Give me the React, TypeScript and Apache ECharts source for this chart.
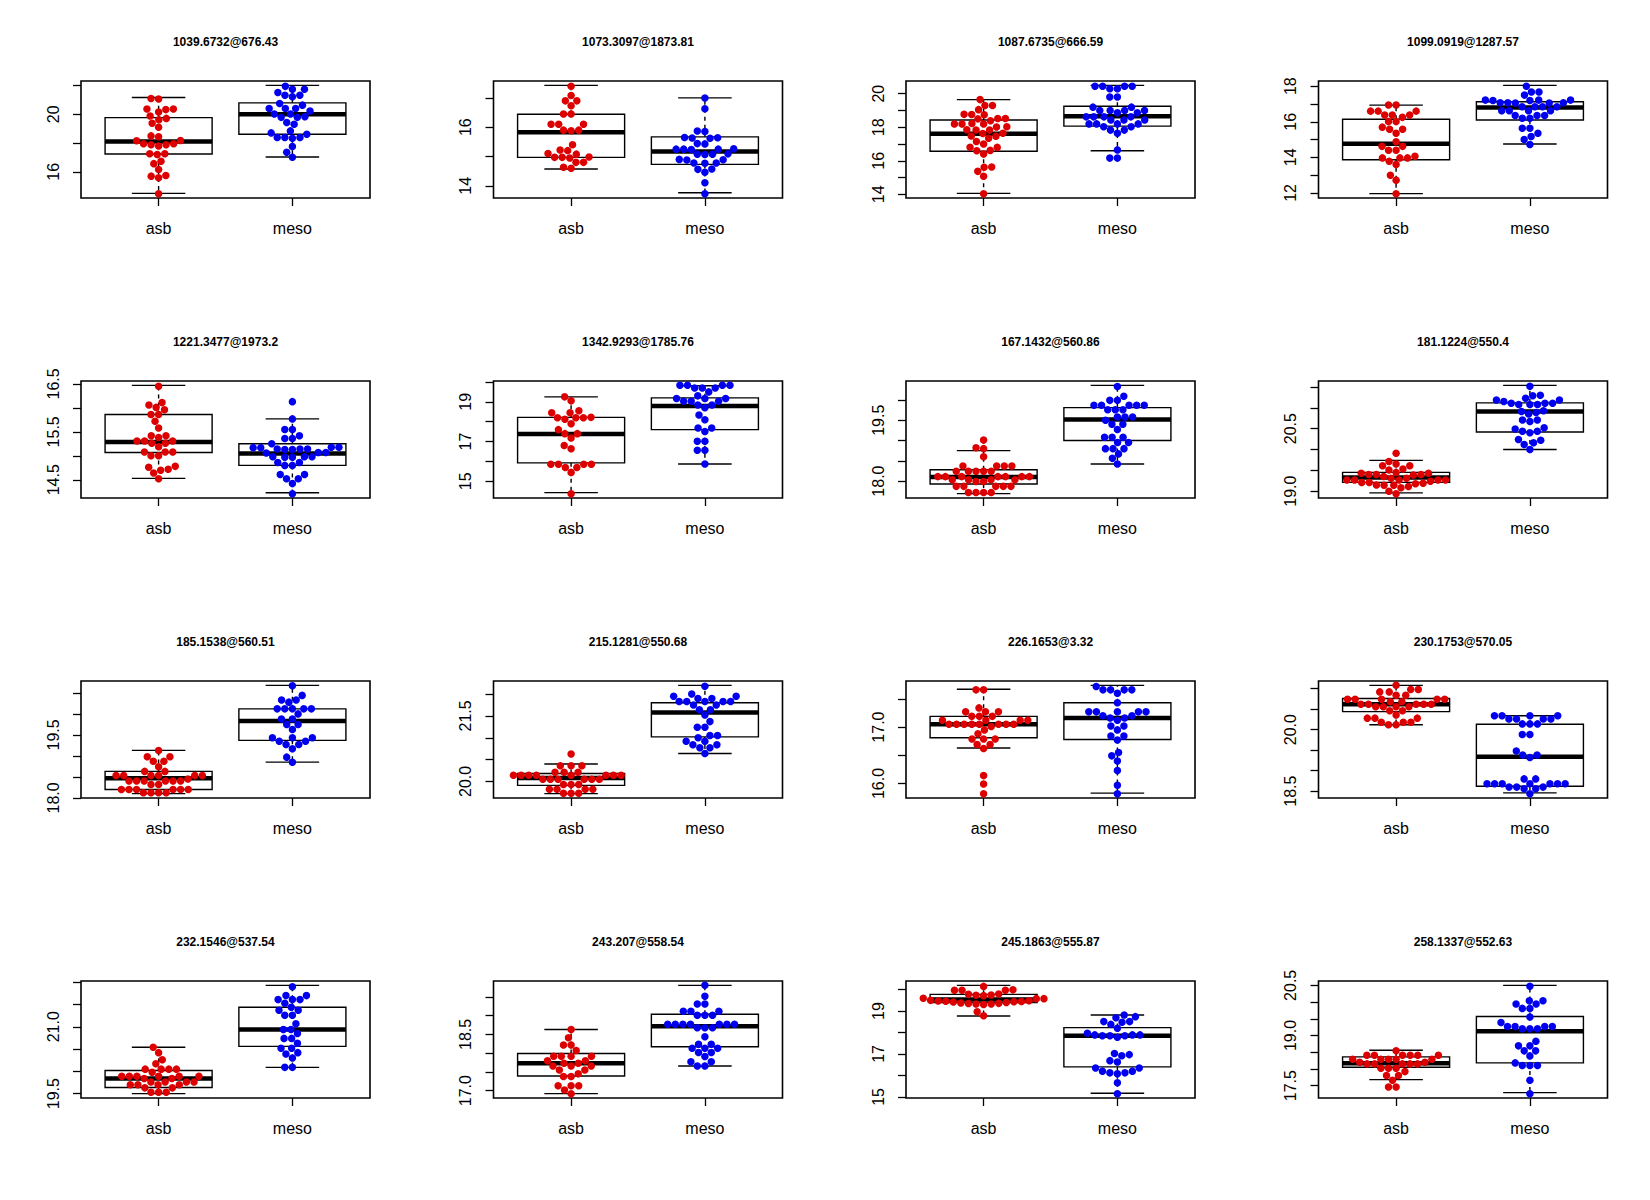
import React, { useEffect, useRef } from "react";
import * as echarts from "echarts";

const categories = ["asb", "meso"];
const titles = [
  "1039.6732@676.43", "1073.3097@1873.81", "1087.6735@666.59", "1099.0919@1287.57",
  "1221.3477@1973.2", "1342.9293@1785.76", "167.1432@560.86", "181.1224@550.4",
  "185.1538@560.51", "215.1281@550.68", "226.1653@3.32", "230.1753@570.05",
  "232.1546@537.54", "243.207@558.54", "245.1863@555.87", "258.1337@552.63",
];

// box stats: [lower whisker, Q1, median, Q3, upper whisker]
// ---- panel 1
const p01Asb = [21.07, 21.1, 20.37, 20.33, 20.16, 20.37, 19.72, 19.63, 19.89, 19.38, 19.1, 18.44, 18.5, 18.18, 17.95, 17.89, 17.8, 17.89, 17.95, 18.16, 17.26, 17.2, 17.26, 16.74, 16.57, 16.16, 15.75, 15.59, 15.7, 14.48];
const p01Meso = [21.95, 21.52, 21.75, 21.75, 21.33, 21.33, 21.22, 20.76, 20.64, 20.41, 20.41, 20.41, 20.23, 20.02, 19.79, 20.02, 19.79, 19.84, 19.43, 19.31, 18.85, 18.62, 18.39, 18.34, 18.39, 18.39, 18.71, 17.77, 17.36, 17.01];
const p01AsbBox = [14.5, 17.24, 18.11, 19.77, 21.17];
const p01MesoBox = [17.03, 18.62, 20.0, 20.8, 22.02];
const p01Ticks = [16, 18, 20, 22];
const p01Labels = ["16", "20"];
// ---- panel 2
const p02Asb = [17.4, 17.08, 16.9, 16.9, 16.73, 16.45, 16.45, 16.1, 16.1, 16.1, 15.9, 15.88, 15.9, 15.4, 15.22, 15.2, 15.08, 15.1, 14.97, 14.97, 14.95, 14.98, 14.8, 14.8, 14.63, 14.6];
const p02Meso = [17.0, 16.63, 15.87, 15.85, 15.65, 15.63, 15.64, 15.62, 15.44, 15.43, 15.26, 15.25, 15.24, 15.25, 15.25, 15.08, 15.07, 15.08, 15.09, 14.9, 14.88, 14.89, 14.78, 14.77, 14.78, 14.57, 14.56, 14.46, 14.1, 13.73];
const p02AsbBox = [14.57, 14.97, 15.83, 16.44, 17.43];
const p02MesoBox = [13.76, 14.73, 15.17, 15.67, 17.0];
const p02Ticks = [14, 15, 16, 17];
const p02Labels = ["14", "16"];
// ---- panel 3
const p03Asb = [19.65, 19.3, 19.3, 19.05, 18.76, 18.75, 18.77, 18.52, 18.5, 18.52, 18.39, 18.2, 18.2, 18.22, 18.2, 18.03, 18.02, 17.84, 17.83, 17.85, 17.64, 17.63, 17.48, 17.47, 17.34, 17.15, 17.0, 16.81, 16.8, 16.6, 16.62, 16.4, 15.63, 15.62, 15.37, 15.08, 14.04];
const p03Meso = [20.45, 20.45, 20.45, 20.45, 20.3, 20.3, 19.8, 19.8, 19.2, 19.2, 19.0, 19.0, 19.0, 19.0, 18.86, 18.86, 18.62, 18.62, 18.62, 18.62, 18.43, 18.43, 18.43, 18.2, 18.2, 18.2, 18.2, 18.03, 18.03, 17.83, 17.83, 17.64, 16.65, 16.16, 16.16];
const p03AsbBox = [14.06, 16.57, 17.62, 18.43, 19.65];
const p03MesoBox = [16.6, 18.07, 18.66, 19.25, 20.5];
const p03Ticks = [14, 15, 16, 17, 18, 19, 20];
const p03Labels = ["14", "16", "18", "20"];
// ---- panel 4
const p04Asb = [16.94, 16.94, 16.6, 16.6, 16.6, 16.38, 16.38, 16.38, 16.25, 16.01, 16.01, 15.7, 15.58, 15.58, 15.36, 14.88, 14.62, 14.62, 14.4, 14.4, 14.06, 13.97, 13.97, 13.97, 13.78, 13.6, 13.0, 12.72, 11.96];
const p04Meso = [18.0, 17.68, 17.68, 17.5, 17.22, 17.22, 17.2, 17.22, 17.2, 17.07, 17.07, 17.05, 17.07, 17.05, 16.85, 16.85, 16.85, 16.85, 16.62, 16.62, 16.62, 16.62, 16.35, 16.35, 16.35, 16.2, 16.2, 15.64, 15.64, 15.36, 15.17, 15.0, 14.72];
const p04AsbBox = [11.96, 13.87, 14.77, 16.14, 16.94];
const p04MesoBox = [14.75, 16.1, 16.81, 17.13, 18.05];
const p04Ticks = [12, 13, 14, 15, 16, 17, 18];
const p04Labels = ["12", "14", "16", "18"];
// ---- panel 5
const p05Asb = [16.45, 16.11, 16.06, 16.01, 15.96, 15.86, 15.86, 15.72, 15.58, 15.42, 15.42, 15.38, 15.31, 15.31, 15.31, 15.26, 15.26, 15.19, 15.08, 15.08, 15.08, 15.0, 15.0, 14.78, 14.76, 14.72, 14.7, 14.64, 14.52];
const p05Meso = [16.13, 15.77, 15.55, 15.55, 15.42, 15.36, 15.36, 15.25, 15.18, 15.18, 15.17, 15.17, 15.14, 15.14, 15.14, 15.13, 15.13, 15.07, 15.07, 15.06, 14.98, 14.98, 14.98, 14.97, 14.97, 14.86, 14.86, 14.8, 14.8, 14.61, 14.61, 14.52, 14.52, 14.42, 14.21];
const p05AsbBox = [14.53, 15.07, 15.29, 15.86, 16.47];
const p05MesoBox = [14.23, 14.8, 15.05, 15.25, 15.77];
const p05Ticks = [14.5, 15, 15.5, 16, 16.5];
const p05Labels = ["14.5", "15.5", "16.5"];
// ---- panel 6
const p06Asb = [19.25, 19.05, 18.55, 18.45, 18.45, 18.22, 18.2, 18.2, 18.2, 18.12, 17.9, 17.6, 17.4, 17.4, 17.18, 16.8, 16.64, 15.86, 15.86, 15.86, 15.86, 15.7, 15.7, 15.45, 14.38];
const p06Meso = [19.83, 19.83, 19.83, 19.83, 19.7, 19.7, 19.7, 19.5, 19.3, 19.17, 19.17, 19.17, 19.03, 19.03, 19.03, 18.84, 18.84, 18.7, 18.34, 18.1, 17.68, 17.68, 17.51, 17.02, 17.02, 16.56, 16.56, 15.87];
const p06AsbBox = [14.43, 15.93, 17.38, 18.22, 19.25];
const p06MesoBox = [15.87, 17.6, 18.79, 19.2, 19.81];
const p06Ticks = [15, 16, 17, 18, 19, 20];
const p06Labels = ["15", "17", "19"];
// ---- panel 7
const p07Asb = [19.01, 18.82, 18.8, 18.6, 18.37, 18.37, 18.37, 18.37, 18.24, 18.24, 18.24, 18.24, 18.24, 18.11, 18.11, 18.11, 18.11, 18.11, 18.11, 18.11, 18.03, 18.03, 18.03, 18.03, 17.99, 17.99, 17.87, 17.87, 17.87, 17.87, 17.87, 17.72, 17.72, 17.72, 17.72];
const p07Meso = [20.33, 20.09, 19.99, 19.99, 19.87, 19.87, 19.87, 19.87, 19.87, 19.76, 19.76, 19.76, 19.58, 19.58, 19.58, 19.5, 19.4, 19.4, 19.27, 19.08, 19.08, 19.08, 18.95, 18.95, 18.8, 18.8, 18.8, 18.67, 18.56, 18.42];
const p07AsbBox = [17.69, 17.93, 18.1, 18.28, 18.75];
const p07MesoBox = [18.42, 19.0, 19.52, 19.81, 20.36];
const p07Ticks = [18, 18.5, 19, 19.5, 20];
const p07Labels = ["18.0", "19.5"];
// ---- panel 8
const p08Asb = [19.91, 19.71, 19.65, 19.61, 19.61, 19.53, 19.51, 19.43, 19.4, 19.35, 19.31, 19.43, 19.31, 19.4, 19.4, 19.45, 19.39, 19.27, 19.27, 19.21, 19.18, 19.27, 19.24, 19.27, 19.19, 19.21, 19.27, 19.11, 19.14, 19.08, 19.14, 19.15, 19.0, 18.94];
const p08Meso = [21.52, 21.29, 21.3, 21.23, 21.19, 21.11, 21.11, 21.08, 21.08, 21.08, 21.11, 21.15, 21.19, 20.93, 20.91, 20.89, 20.85, 20.71, 20.67, 20.71, 20.52, 20.44, 20.4, 20.44, 20.49, 20.22, 20.16, 20.12, 20.24, 20.0];
const p08AsbBox = [18.96, 19.21, 19.33, 19.45, 19.74];
const p08MesoBox = [20.0, 20.42, 20.91, 21.12, 21.54];
const p08Ticks = [19, 19.5, 20, 20.5, 21, 21.5];
const p08Labels = ["19.0", "20.5"];
// ---- panel 9
const p09Asb = [19.13, 18.98, 18.98, 18.87, 18.87, 18.74, 18.63, 18.63, 18.53, 18.53, 18.53, 18.53, 18.53, 18.53, 18.45, 18.4, 18.4, 18.4, 18.4, 18.4, 18.4, 18.32, 18.32, 18.2, 18.2, 18.2, 18.2, 18.2, 18.2, 18.12, 18.12, 18.12, 18.12];
const p09Meso = [20.67, 20.44, 20.33, 20.33, 20.28, 20.12, 20.12, 20.12, 20.12, 20.12, 20.0, 19.88, 19.88, 19.75, 19.75, 19.63, 19.43, 19.43, 19.43, 19.35, 19.35, 19.27, 19.27, 19.17, 18.97, 18.85];
const p09AsbBox = [18.1, 18.2, 18.47, 18.63, 19.13];
const p09MesoBox = [18.85, 19.37, 19.83, 20.12, 20.68];
const p09Ticks = [18, 18.5, 19, 19.5, 20, 20.5];
const p09Labels = ["18.0", "19.5"];
// ---- panel 10
const p10Asb = [20.63, 20.36, 20.36, 20.36, 20.21, 20.21, 20.21, 20.14, 20.14, 20.14, 20.14, 20.14, 20.14, 20.14, 20.14, 20.05, 20.05, 20.05, 20.05, 20.05, 20.05, 19.93, 19.93, 19.93, 19.82, 19.82, 19.82, 19.82, 19.73, 19.73, 19.73];
const p10Meso = [22.18, 22.0, 21.95, 21.95, 21.9, 21.9, 21.83, 21.83, 21.83, 21.83, 21.83, 21.75, 21.75, 21.64, 21.64, 21.52, 21.37, 21.24, 21.24, 21.05, 21.05, 21.0, 20.92, 20.92, 20.84, 20.84, 20.77, 20.77, 20.64];
const p10AsbBox = [19.72, 19.91, 20.08, 20.18, 20.4];
const p10MesoBox = [20.64, 21.02, 21.58, 21.8, 22.2];
const p10Ticks = [20, 20.5, 21, 21.5, 22];
const p10Labels = ["20.0", "21.5"];
// ---- panel 11
const p11Asb = [17.66, 17.66, 17.34, 17.27, 17.27, 17.27, 17.19, 17.19, 17.19, 17.12, 17.12, 17.12, 17.12, 17.05, 17.05, 17.05, 17.05, 17.05, 17.05, 17.05, 17.05, 17.01, 16.95, 16.88, 16.79, 16.79, 16.79, 16.69, 16.69, 16.62, 16.14, 15.99, 15.82];
const p11Meso = [17.72, 17.66, 17.66, 17.66, 17.66, 17.6, 17.43, 17.27, 17.27, 17.27, 17.27, 17.27, 17.2, 17.2, 17.16, 17.16, 17.12, 17.02, 17.02, 16.95, 16.84, 16.84, 16.77, 16.55, 16.49, 16.4, 16.23, 15.97, 15.82];
const p11AsbBox = [16.63, 16.81, 17.05, 17.19, 17.67];
const p11MesoBox = [15.83, 16.78, 17.16, 17.43, 17.74];
const p11Ticks = [16, 16.5, 17, 17.5];
const p11Labels = ["16.0", "17.0"];
// ---- panel 12
const p12Asb = [21.08, 20.98, 20.98, 20.92, 20.92, 20.84, 20.84, 20.74, 20.74, 20.74, 20.74, 20.74, 20.68, 20.68, 20.62, 20.62, 20.62, 20.62, 20.62, 20.56, 20.56, 20.56, 20.56, 20.46, 20.46, 20.36, 20.28, 20.28, 20.28, 20.18, 20.18, 20.18, 20.12, 20.12];
const p12Meso = [20.34, 20.34, 20.34, 20.34, 20.26, 20.26, 20.26, 20.26, 20.14, 20.14, 20.14, 19.88, 19.88, 19.48, 19.38, 19.38, 19.32, 18.8, 18.8, 18.68, 18.68, 18.68, 18.68, 18.68, 18.68, 18.68, 18.6, 18.6, 18.6, 18.56, 18.56, 18.44];
const p12AsbBox = [20.12, 20.44, 20.62, 20.76, 21.08];
const p12MesoBox = [18.46, 18.62, 19.34, 20.13, 20.34];
const p12Ticks = [18.5, 19, 19.5, 20, 20.5, 21];
const p12Labels = ["18.5", "20.0"];
// ---- panel 13
const p13Asb = [20.54, 20.42, 20.26, 20.17, 20.05, 20.05, 20.05, 20.05, 19.98, 19.89, 19.89, 19.89, 19.89, 19.89, 19.89, 19.84, 19.84, 19.76, 19.76, 19.76, 19.76, 19.7, 19.7, 19.7, 19.7, 19.63, 19.63, 19.53, 19.53, 19.53];
const p13Meso = [21.9, 21.7, 21.7, 21.61, 21.61, 21.61, 21.53, 21.44, 21.37, 21.37, 21.26, 21.26, 21.07, 20.94, 20.94, 20.85, 20.74, 20.74, 20.63, 20.52, 20.52, 20.42, 20.39, 20.3, 20.09, 20.09];
const p13AsbBox = [19.5, 19.64, 19.84, 20.02, 20.54];
const p13MesoBox = [20.09, 20.56, 20.94, 21.44, 21.93];
const p13Ticks = [19.5, 20, 20.5, 21, 21.5, 22];
const p13Labels = ["19.5", "21.0"];
// ---- panel 14
const p14Asb = [18.63, 18.41, 18.22, 18.22, 18.07, 17.92, 17.92, 17.92, 17.92, 17.8, 17.8, 17.73, 17.73, 17.66, 17.66, 17.66, 17.55, 17.55, 17.45, 17.38, 17.38, 17.13, 17.13, 17.13, 17.02, 16.92];
const p14Meso = [19.81, 19.52, 19.31, 19.31, 19.12, 19.12, 19.12, 19.01, 19.01, 19.01, 18.77, 18.77, 18.77, 18.77, 18.77, 18.77, 18.77, 18.68, 18.68, 18.68, 18.44, 18.24, 18.24, 18.13, 18.13, 18.13, 18.02, 18.02, 17.91, 17.77, 17.77, 17.66, 17.66];
const p14AsbBox = [16.92, 17.39, 17.73, 17.99, 18.63];
const p14MesoBox = [17.66, 18.17, 18.72, 19.04, 19.81];
const p14Ticks = [17, 17.5, 18, 18.5, 19, 19.5];
const p14Labels = ["17.0", "18.5"];
// ---- panel 15
const p15Asb = [20.15, 19.97, 19.97, 19.99, 19.97, 19.78, 19.75, 19.8, 19.72, 19.74, 19.58, 19.6, 19.58, 19.47, 19.45, 19.4, 19.35, 19.31, 19.33, 19.38, 19.44, 19.48, 19.5, 19.46, 19.42, 19.36, 19.33, 18.97, 18.78];
const p15Meso = [18.74, 18.69, 18.82, 18.48, 18.51, 18.51, 18.2, 18.38, 17.97, 17.89, 17.85, 17.85, 17.78, 17.85, 17.89, 17.89, 16.92, 16.97, 17.02, 16.63, 16.69, 16.35, 16.2, 16.12, 16.08, 16.12, 16.2, 16.35, 15.66, 15.15];
const p15AsbBox = [18.77, 19.4, 19.54, 19.78, 20.2];
const p15MesoBox = [15.17, 16.4, 17.85, 18.23, 18.82];
const p15Ticks = [15, 16, 17, 18, 19, 20];
const p15Labels = ["15", "17", "19"];
// ---- panel 16
const p16Asb = [18.54, 18.41, 18.41, 18.41, 18.41, 18.41, 18.41, 18.29, 18.29, 18.29, 18.29, 18.29, 18.2, 18.2, 18.15, 18.15, 18.15, 18.15, 18.15, 18.02, 18.02, 18.02, 17.92, 17.8, 17.8, 17.66, 17.46, 17.46];
const p16Meso = [20.47, 20.04, 20.04, 19.94, 19.94, 19.81, 19.81, 19.55, 19.39, 19.27, 19.27, 19.27, 19.27, 19.2, 19.2, 19.2, 18.83, 18.69, 18.69, 18.54, 18.54, 18.39, 18.18, 18.1, 18.1, 18.1, 17.66, 17.26];
const p16AsbBox = [17.68, 18.05, 18.17, 18.36, 18.56];
const p16MesoBox = [17.29, 18.18, 19.13, 19.57, 20.5];
const p16Ticks = [17.5, 18, 18.5, 19, 19.5, 20, 20.5];
const p16Labels = ["17.5", "19.0", "20.5"];

const panels = [
  [p01Asb, p01Meso, p01AsbBox, p01MesoBox, p01Ticks, p01Labels],
  [p02Asb, p02Meso, p02AsbBox, p02MesoBox, p02Ticks, p02Labels],
  [p03Asb, p03Meso, p03AsbBox, p03MesoBox, p03Ticks, p03Labels],
  [p04Asb, p04Meso, p04AsbBox, p04MesoBox, p04Ticks, p04Labels],
  [p05Asb, p05Meso, p05AsbBox, p05MesoBox, p05Ticks, p05Labels],
  [p06Asb, p06Meso, p06AsbBox, p06MesoBox, p06Ticks, p06Labels],
  [p07Asb, p07Meso, p07AsbBox, p07MesoBox, p07Ticks, p07Labels],
  [p08Asb, p08Meso, p08AsbBox, p08MesoBox, p08Ticks, p08Labels],
  [p09Asb, p09Meso, p09AsbBox, p09MesoBox, p09Ticks, p09Labels],
  [p10Asb, p10Meso, p10AsbBox, p10MesoBox, p10Ticks, p10Labels],
  [p11Asb, p11Meso, p11AsbBox, p11MesoBox, p11Ticks, p11Labels],
  [p12Asb, p12Meso, p12AsbBox, p12MesoBox, p12Ticks, p12Labels],
  [p13Asb, p13Meso, p13AsbBox, p13MesoBox, p13Ticks, p13Labels],
  [p14Asb, p14Meso, p14AsbBox, p14MesoBox, p14Ticks, p14Labels],
  [p15Asb, p15Meso, p15AsbBox, p15MesoBox, p15Ticks, p15Labels],
  [p16Asb, p16Meso, p16AsbBox, p16MesoBox, p16Ticks, p16Labels],
] as any[];

const COLORS = ["#DD0000", "#0000EE"];
const FONT = "'Liberation Sans', Arial, Helvetica, sans-serif";
const DOT_D = 7.6;
const DOT_R = 3.75;

function swarm(ys: number[], d: number): number[] {
  const order = ys.map((_, i) => i).sort((a, b) => ys[b] - ys[a]);
  const placed: { x: number; y: number }[] = [];
  const xs = new Array(ys.length).fill(0);
  for (const i of order) {
    const y = ys[i];
    const near = placed.filter((p) => Math.abs(p.y - y) < d);
    const cands = [0];
    for (const p of near) {
      const dx = Math.sqrt(d * d - (p.y - y) * (p.y - y));
      cands.push(p.x + dx, p.x - dx);
    }
    cands.sort((a, b) => Math.abs(a) - Math.abs(b) || a - b);
    let chosen = 0;
    for (const c of cands) {
      if (near.every((p) => (p.x - c) ** 2 + (p.y - y) ** 2 >= d * d - 1e-6)) {
        chosen = c;
        break;
      }
    }
    xs[i] = chosen;
    placed.push({ x: chosen, y });
  }
  return xs;
}

function buildOption() {
  const grid: any[] = [];
  const xAxis: any[] = [];
  const yAxis: any[] = [];
  const series: any[] = [];
  const graphic: any[] = [];
  panels.forEach((p, i) => {
    const [asb, meso, asbBox, mesoBox, ticks, labels] = p;
    const col = i % 4;
    const row = Math.floor(i / 4);
    const left = 81 + 412.5 * col;
    const top = 81 + 300 * row;
    const all = [...asb, ...meso, ...asbBox, ...mesoBox];
    const lo = Math.min(...all);
    const hi = Math.max(...all);
    const r = hi - lo;
    grid.push({ left, top, width: 289, height: 117, show: true, borderColor: "#000", borderWidth: 1.6, backgroundColor: "transparent", containLabel: false });
    xAxis.push({
      gridIndex: i, type: "value", min: 0.42, max: 2.58,
      axisLine: { show: false }, splitLine: { show: false },
      axisTick: { show: true, length: 8, customValues: [1, 2], lineStyle: { color: "#000", width: 1.3 } },
      axisLabel: { show: true, customValues: [1, 2], formatter: (v: number) => categories[Math.round(v) - 1], margin: 22, fontSize: 16, color: "#000", fontFamily: FONT },
    });
    yAxis.push({
      gridIndex: i, type: "value", min: lo - 0.04 * r, max: hi + 0.04 * r,
      axisLine: { show: false }, splitLine: { show: false },
      axisTick: { show: true, length: 8, customValues: ticks, lineStyle: { color: "#000", width: 1.3 } },
      axisLabel: {
        show: true, customValues: labels.map(Number), rotate: 90, margin: 20, fontSize: 16, color: "#000", fontFamily: FONT,
        formatter: (v: number) => labels.find((s: string) => Math.abs(Number(s) - v) < 1e-6) ?? "",
      },
    });
    series.push({
      type: "custom", xAxisIndex: i, yAxisIndex: i, silent: true, z: 2,
      data: [[1, ...asbBox], [2, ...mesoBox]],
      renderItem: (params: any, api: any) => {
        const x = api.value(0);
        const pLo = api.coord([x, api.value(1)]);
        const pQ1 = api.coord([x, api.value(2)]);
        const pMed = api.coord([x, api.value(3)]);
        const pQ3 = api.coord([x, api.value(4)]);
        const pHi = api.coord([x, api.value(5)]);
        const hw = api.size([0.4, 0])[0];
        const cx = pMed[0];
        const sw = hw / 2;
        const ls = { stroke: "#000", lineWidth: 1.4 };
        return {
          type: "group",
          children: [
            { type: "line", shape: { x1: cx, y1: pQ3[1], x2: cx, y2: pHi[1] }, style: { ...ls, lineDash: [4, 4] } },
            { type: "line", shape: { x1: cx, y1: pQ1[1], x2: cx, y2: pLo[1] }, style: { ...ls, lineDash: [4, 4] } },
            { type: "line", shape: { x1: cx - sw, y1: pHi[1], x2: cx + sw, y2: pHi[1] }, style: ls },
            { type: "line", shape: { x1: cx - sw, y1: pLo[1], x2: cx + sw, y2: pLo[1] }, style: ls },
            { type: "rect", shape: { x: cx - hw, y: pQ3[1], width: 2 * hw, height: pQ1[1] - pQ3[1] }, style: { ...ls, fill: "none" } },
            { type: "line", shape: { x1: cx - hw, y1: pMed[1], x2: cx + hw, y2: pMed[1] }, style: { stroke: "#000", lineWidth: 4.5 } },
          ],
        };
      },
    });
    const groups = [asb, meso];
    series.push({
      type: "custom", xAxisIndex: i, yAxisIndex: i, silent: true, z: 3,
      data: [[1, asbBox[2]], [2, mesoBox[2]]],
      renderItem: (params: any, api: any) => {
        const gi = params.dataIndex;
        const x = api.value(0);
        const vals: number[] = groups[gi];
        const pts = vals.map((v) => api.coord([x, v]));
        const offs = swarm(pts.map((q) => q[1]), DOT_D);
        return {
          type: "group",
          children: pts.map((q, k) => ({
            type: "circle",
            shape: { cx: q[0] + offs[k], cy: q[1], r: DOT_R },
            style: { fill: COLORS[gi] },
          })),
        };
      },
    });
    graphic.push({
      type: "text", x: left + 144.5, y: 42 + 300 * row,
      style: { text: titles[i], fill: "#000", font: `bold 12px ${FONT}`, textAlign: "center", textVerticalAlign: "middle" },
    });
  });
  return { animation: false, backgroundColor: "#fff", grid, xAxis, yAxis, series, graphic };
}

export default function App() {
  const ref = useRef<HTMLDivElement>(null);
  useEffect(() => {
    if (!ref.current) return;
    const chart = echarts.init(ref.current, null, { renderer: "svg" });
    chart.setOption(buildOption() as any);
    return () => chart.dispose();
  }, []);
  return <div ref={ref} style={{ position: "absolute", left: 0, top: 0, width: 1650, height: 1200 }} />;
}
